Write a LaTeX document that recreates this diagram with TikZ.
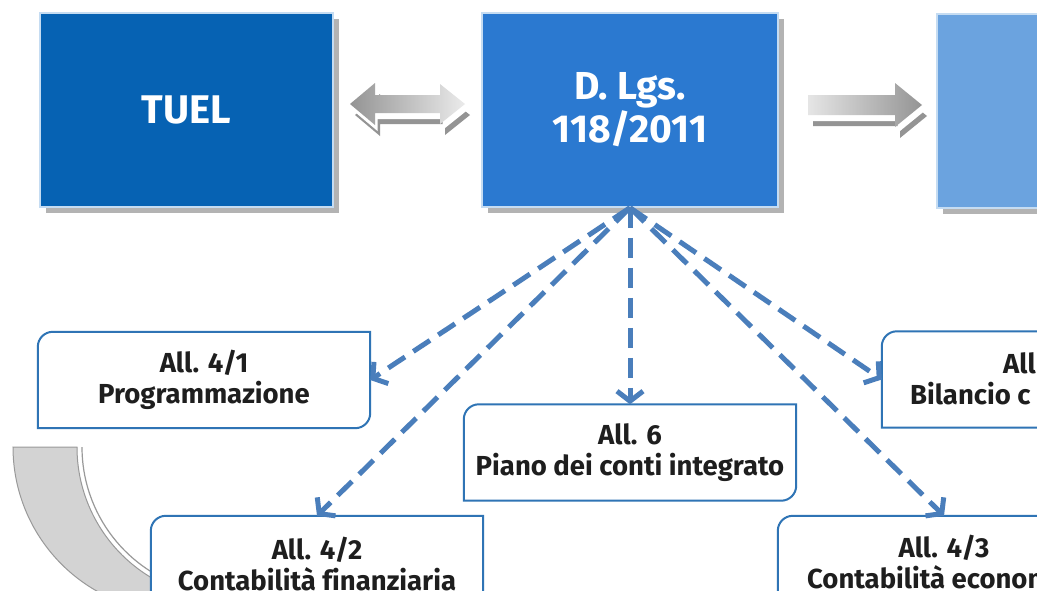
\documentclass[tikz,border=0pt]{standalone}
\usepackage{fontspec}
\setmainfont{Fira Sans}[Ligatures=NoCommon]
\usetikzlibrary{arrows.meta,calc,shadows}
\definecolor{tuelblue}{HTML}{0662B3}
\definecolor{dlgsblue}{HTML}{2B79D0}
\definecolor{rightblue}{HTML}{6BA3DF}
\definecolor{edgeblue}{HTML}{C5DCF2}
\definecolor{frameblue}{HTML}{2F74B5}
\definecolor{dashblue}{HTML}{4A7EBB}
\definecolor{shadowgray}{HTML}{B3B3B3}
\definecolor{bandgray}{HTML}{D3D3D3}
\definecolor{bandedge}{HTML}{999999}
\definecolor{textdark}{HTML}{1E1E1E}
\tikzset{
  topbox/.style={draw=edgeblue, line width=1.5pt, text=white, align=center,
    inner sep=0pt, minimum height=194pt,
    drop shadow={shadow xshift=6pt, shadow yshift=-6pt, fill=shadowgray, opacity=1}},
  lowbox/.style={minimum width=332pt, minimum height=96pt, inner sep=0pt,
    align=center, fill=white, text=textdark, font=\lowfont},
  lowframe/.style={draw=frameblue, line width=2pt},
  lowtext/.style={text=textdark, font=\lowfont, inner sep=0pt},
  dasharrow/.style={draw=dashblue, line width=5pt, dash pattern=on 20pt off 10pt,
    -{Straight Barb[length=10pt,width=26pt,line width=5pt]}},
  blockshadow/.style={fill=black!42},
  blockgap/.style={fill=white},
}
\newcommand{\lowfont}{\bfseries\fontsize{27.5}{31}\selectfont}
\newcommand{\frameof}[1]{%
  \draw[lowframe] (#1.north east) -- ($(#1.south east)+(0,15)$)
    arc[start angle=0,end angle=-90,radius=15pt] -- (#1.south west)
    -- ($(#1.north west)+(0,-15)$)
    arc[start angle=180,end angle=90,radius=15pt] -- cycle;}
\begin{document}
\begin{tikzpicture}[x=1pt,y=1pt]
\useasboundingbox (0,0) rectangle (1037,-590);
\clip (0,0) rectangle (1037,-590);
\fill[white] (0,0) rectangle (1037,-590);

% top boxes
\node[topbox, fill=tuelblue, minimum width=293pt,
      font=\bfseries\fontsize{40}{43}\selectfont] (tuel) at (186.5,-110) {TUEL};
\node[topbox, fill=dlgsblue, minimum width=296pt,
      font=\bfseries\fontsize{39}{43}\selectfont] (dlgs) at (630,-110) {D. Lgs.\\118/2011};
\node[topbox, fill=rightblue, minimum width=296pt] (rbox) at (1085,-111) {};

% double block arrow
\fill[blockshadow, shift={(5,-11)}] (350,-104) -- (375,-83) -- (375,-95) -- (440,-95)
  -- (440,-84) -- (465,-104) -- (440,-124) -- (440,-113) -- (375,-113) -- (375,-125) -- cycle;
\fill[blockgap, shift={(2.5,-6)}] (350,-104) -- (375,-83) -- (375,-95) -- (440,-95)
  -- (440,-84) -- (465,-104) -- (440,-124) -- (440,-113) -- (375,-113) -- (375,-125) -- cycle;
\shade[left color=black!42, right color=black!8] (350,-104) -- (375,-83) -- (375,-95) -- (440,-95)
  -- (440,-84) -- (465,-104) -- (440,-124) -- (440,-113) -- (375,-113) -- (375,-125) -- cycle;

% right block arrow
\fill[blockshadow, shift={(5,-11)}] (808,-95) -- (895,-95) -- (895,-83) -- (922,-105)
  -- (895,-127) -- (895,-115) -- (808,-115) -- cycle;
\fill[blockgap, shift={(2.5,-6)}] (808,-95) -- (895,-95) -- (895,-83) -- (922,-105)
  -- (895,-127) -- (895,-115) -- (808,-115) -- cycle;
\shade[left color=black!10, right color=black!42] (808,-95) -- (895,-95) -- (895,-83) -- (922,-105)
  -- (895,-127) -- (895,-115) -- (808,-115) -- cycle;

% curved grey band
\filldraw[fill=bandgray, draw=bandedge, line width=1pt]
  (13,-447) arc[start angle=180,end angle=255,radius=165.7pt]
  -- ($(229,-447)+(255:152)$) arc[start angle=255,end angle=180,radius=152pt] -- cycle;
\draw[bandedge, line width=1.2pt] (82,-447) arc[start angle=180,end angle=255,radius=147pt];

% lower boxes
\node[lowbox] (a41) at (204,-380) {All. 4/1\\Programmazione};
\frameof{a41}
\node[lowbox] (a6) at (630,-452.5) {All. 6\\Piano dei conti integrato};
\frameof{a6}
\node[lowbox] (a44) at (1048,-379.5) {};
\frameof{a44}
\node[lowtext, anchor=base west] (t44a) at (1003,-373) {All};
\node[lowtext, anchor=base west] (t44b) at (910,-404) {Bilancio c};
\node[lowbox] (a42) at (317,-564) {All. 4/2\\Contabilità finanziaria};
\frameof{a42}
\node[lowbox] (a43) at (944,-564) {};
\frameof{a43}
\node[lowtext, anchor=base] (t43a) at (944,-557) {All. 4/3};
\node[lowtext, anchor=base west] (t43b) at (807,-588) {Contabilità econom};

% dashed arrows
\draw[dasharrow] (dlgs.south) -- (a41.east);
\draw[dasharrow] (dlgs.south) -- (a42.north);
\draw[dasharrow] (dlgs.south) -- (a6.north);
\draw[dasharrow] (dlgs.south) -- (a44.west);
\draw[dasharrow] (dlgs.south) -- (a43.north);
\end{tikzpicture}
\end{document}
